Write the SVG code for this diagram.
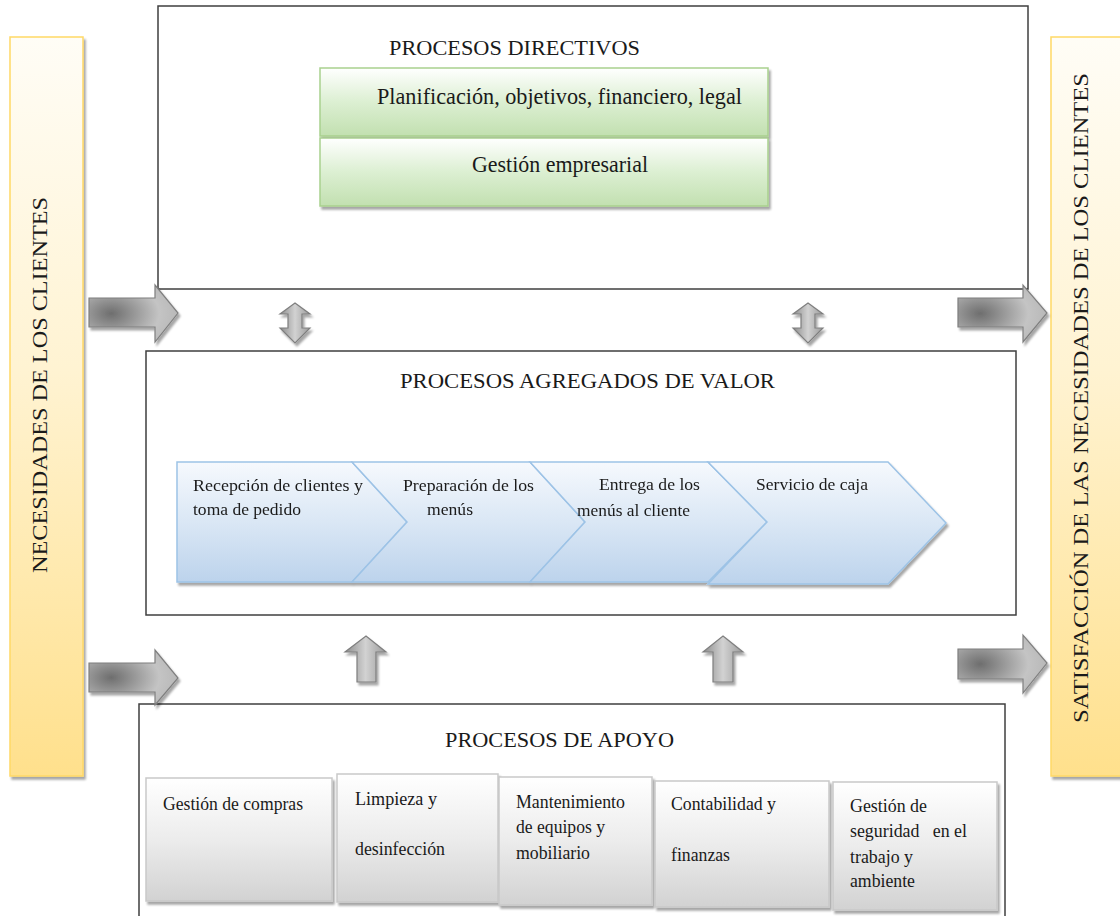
<svg xmlns="http://www.w3.org/2000/svg" width="1120" height="916" viewBox="0 0 1120 916">
<defs>
<linearGradient id="gYellow" x1="0" y1="0" x2="0" y2="1">
<stop offset="0" stop-color="#fffdf6"/>
<stop offset="0.45" stop-color="#fff3d2"/>
<stop offset="1" stop-color="#ffe08c"/>
</linearGradient>
<linearGradient id="gGreen" x1="0" y1="0" x2="0" y2="1">
<stop offset="0" stop-color="#ffffff"/>
<stop offset="0.5" stop-color="#dcefd2"/>
<stop offset="1" stop-color="#c2e0b0"/>
</linearGradient>
<linearGradient id="gBlue" x1="0" y1="0" x2="0" y2="1">
<stop offset="0" stop-color="#f6f9fd"/>
<stop offset="0.5" stop-color="#dae7f5"/>
<stop offset="1" stop-color="#bcd3ec"/>
</linearGradient>
<linearGradient id="gGray" x1="0" y1="0" x2="0" y2="1">
<stop offset="0" stop-color="#ffffff"/>
<stop offset="0.5" stop-color="#ececec"/>
<stop offset="1" stop-color="#d2d2d2"/>
</linearGradient>
<linearGradient id="gArrowH" x1="0" y1="0" x2="0" y2="1">
<stop offset="0" stop-color="#b8b8b8"/>
<stop offset="0.5" stop-color="#cfcfcf"/>
<stop offset="1" stop-color="#8c8c8c"/>
</linearGradient>
<linearGradient id="gArrowV" x1="0" y1="0" x2="1" y2="0">
<stop offset="0" stop-color="#8c8c8c"/>
<stop offset="0.5" stop-color="#d2d2d2"/>
<stop offset="1" stop-color="#9a9a9a"/>
</linearGradient>
<radialGradient id="gArrowR" cx="0.25" cy="0.5" r="0.9">
<stop offset="0" stop-color="#6e6e6e"/>
<stop offset="0.6" stop-color="#c4c4c4"/>
<stop offset="1" stop-color="#b0b0b0"/>
</radialGradient>
<filter id="sh" x="-10%" y="-10%" width="130%" height="130%">
<feDropShadow dx="2" dy="3" stdDeviation="1.2" flood-color="#000" flood-opacity="0.35"/>
</filter>
</defs>
<style>
.frame{fill:#ffffff;stroke:#3f3f3f;stroke-width:1.5}
.ybar{fill:url(#gYellow);stroke:#ffd966;stroke-width:1.5;filter:url(#sh)}
.gbox{fill:url(#gGreen);stroke:#a9d18e;stroke-width:1.5;filter:url(#sh)}
.chev{fill:url(#gBlue);stroke:#9dc3e6;stroke-width:1.5}
.gray{fill:url(#gGray);stroke:#c9c9c9;stroke-width:1.5;filter:url(#sh)}
.arr{fill:url(#gArrowR);stroke:#7f7f7f;stroke-width:1.2;filter:url(#sh)}
.arrv{fill:url(#gArrowV);stroke:#7f7f7f;stroke-width:1.2;filter:url(#sh)}
text{font-family:"Liberation Serif","Times New Roman",serif;fill:#1a1a1a}
.t22{font-size:22px}
.t24{font-size:24px}
.t17{font-size:17px}
.t18{font-size:18px}
.tv{font-size:21px}
</style>

<g id="necesidades">
<rect class="ybar" x="10" y="37" width="73" height="739"/>
<text class="tv" transform="translate(47,573) rotate(-90)" textLength="376" lengthAdjust="spacingAndGlyphs">NECESIDADES DE LOS CLIENTES</text>
</g>

<g id="satisfaccion">
<rect class="ybar" x="1051" y="37" width="80" height="739"/>
<text class="tv" transform="translate(1088,723) rotate(-90)" textLength="650" lengthAdjust="spacingAndGlyphs">SATISFACCIÓN DE LAS NECESIDADES DE LOS CLIENTES</text>
</g>

<g id="procesos-directivos">
<rect class="frame" x="158" y="6" width="870" height="283"/>
<text class="t22" x="389" y="55" textLength="251" lengthAdjust="spacingAndGlyphs">PROCESOS DIRECTIVOS</text>
<g id="planificacion">
<rect class="gbox" x="320" y="68" width="448" height="68"/>
<text class="t24" x="377" y="104" textLength="365" lengthAdjust="spacingAndGlyphs">Planificación, objetivos, financiero, legal</text>
</g>
<g id="gestion-empresarial">
<rect class="gbox" x="320" y="138" width="448" height="68"/>
<text class="t24" x="472" y="172" textLength="176" lengthAdjust="spacingAndGlyphs">Gestión empresarial</text>
</g>
</g>

<g id="procesos-agregados">
<rect class="frame" x="146" y="351" width="870" height="264"/>
<text class="t22" x="400" y="388" textLength="375" lengthAdjust="spacingAndGlyphs">PROCESOS AGREGADOS DE VALOR</text>
<g filter="url(#sh)">
<g id="recepcion">
<polygon class="chev" points="177,462 352,462 407,522 352,582 177,582"/>
<text class="t17" x="193" y="491" textLength="170" lengthAdjust="spacingAndGlyphs">Recepción de clientes y</text>
<text class="t17" x="193" y="515" textLength="108" lengthAdjust="spacingAndGlyphs">toma de pedido</text>
</g>
<g id="preparacion">
<polygon class="chev" points="352,462 530,462 585,522 530,582 352,582 407,522"/>
<text class="t17" x="403" y="491" textLength="131" lengthAdjust="spacingAndGlyphs">Preparación de los</text>
<text class="t17" x="427" y="515" textLength="46" lengthAdjust="spacingAndGlyphs">menús</text>
</g>
<g id="entrega">
<polygon class="chev" points="530,462 708,462 767,522 708,582 530,582 585,522"/>
<text class="t17" x="599" y="490" textLength="101" lengthAdjust="spacingAndGlyphs">Entrega de los</text>
<text class="t17" x="577" y="516" textLength="113" lengthAdjust="spacingAndGlyphs">menús al cliente</text>
</g>
<g id="servicio-caja">
<polygon class="chev" points="708,462 888,462 946,523 888,584 708,584 767,522"/>
<text class="t17" x="756" y="490" textLength="112" lengthAdjust="spacingAndGlyphs">Servicio de caja</text>
</g>
</g>
</g>

<g id="procesos-apoyo">
<rect class="frame" x="139" y="704" width="866" height="230"/>
<text class="t22" x="445" y="747" textLength="229" lengthAdjust="spacingAndGlyphs">PROCESOS DE APOYO</text>
<g id="gestion-compras">
<rect class="gray" x="146" y="778" width="186" height="123"/>
<text class="t18" x="163" y="810" textLength="140" lengthAdjust="spacingAndGlyphs">Gestión de compras</text>
</g>
<g id="limpieza">
<rect class="gray" x="337" y="774" width="161" height="128"/>
<text class="t18" x="355" y="805" textLength="82" lengthAdjust="spacingAndGlyphs">Limpieza y</text>
<text class="t18" x="355" y="855" textLength="90" lengthAdjust="spacingAndGlyphs">desinfección</text>
</g>
<g id="mantenimiento">
<rect class="gray" x="499" y="777" width="153" height="128"/>
<text class="t18" x="516" y="808" textLength="109" lengthAdjust="spacingAndGlyphs">Mantenimiento</text>
<text class="t18" x="516" y="833" textLength="89" lengthAdjust="spacingAndGlyphs">de equipos y</text>
<text class="t18" x="516" y="859" textLength="74" lengthAdjust="spacingAndGlyphs">mobiliario</text>
</g>
<g id="contabilidad">
<rect class="gray" x="655" y="781" width="174" height="126"/>
<text class="t18" x="671" y="810" textLength="105" lengthAdjust="spacingAndGlyphs">Contabilidad y</text>
<text class="t18" x="671" y="861" textLength="59" lengthAdjust="spacingAndGlyphs">finanzas</text>
</g>
<g id="seguridad">
<rect class="gray" x="833" y="782" width="164" height="128"/>
<text class="t18" x="850" y="812" textLength="77" lengthAdjust="spacingAndGlyphs">Gestión de</text>
<text class="t18" x="850" y="837" textLength="117" lengthAdjust="spacingAndGlyphs" xml:space="preserve">seguridad   en el</text>
<text class="t18" x="850" y="863" textLength="63" lengthAdjust="spacingAndGlyphs">trabajo y</text>
<text class="t18" x="850" y="887" textLength="65" lengthAdjust="spacingAndGlyphs">ambiente</text>
</g>
</g>

<g id="connectors">
<polygon class="arr" points="89,298 155,298 155,285 178,313 155,342 155,327 89,327"/>
<polygon class="arr" points="89,663 155,663 155,650 178,678 155,705 155,692 89,692"/>
<polygon class="arr" points="958,298 1023,298 1023,285 1047,313 1023,342 1023,327 958,327"/>
<polygon class="arr" points="958,649 1023,649 1023,635 1047,663 1023,693 1023,679 958,679"/>
<polygon class="arrv" points="295,303 310,314 302,314 302,328 310,328 295,343 280,328 288,328 288,314 280,314"/>
<polygon class="arrv" points="808,303 823,314 815,314 815,328 823,328 808,343 793,328 801,328 801,314 793,314"/>
<polygon class="arrv" points="366,636 386,652 376,652 376,682 357,682 357,652 345,652"/>
<polygon class="arrv" points="723,636 743,652 733,652 733,682 713,682 713,652 703,652"/>
</g>
</svg>
